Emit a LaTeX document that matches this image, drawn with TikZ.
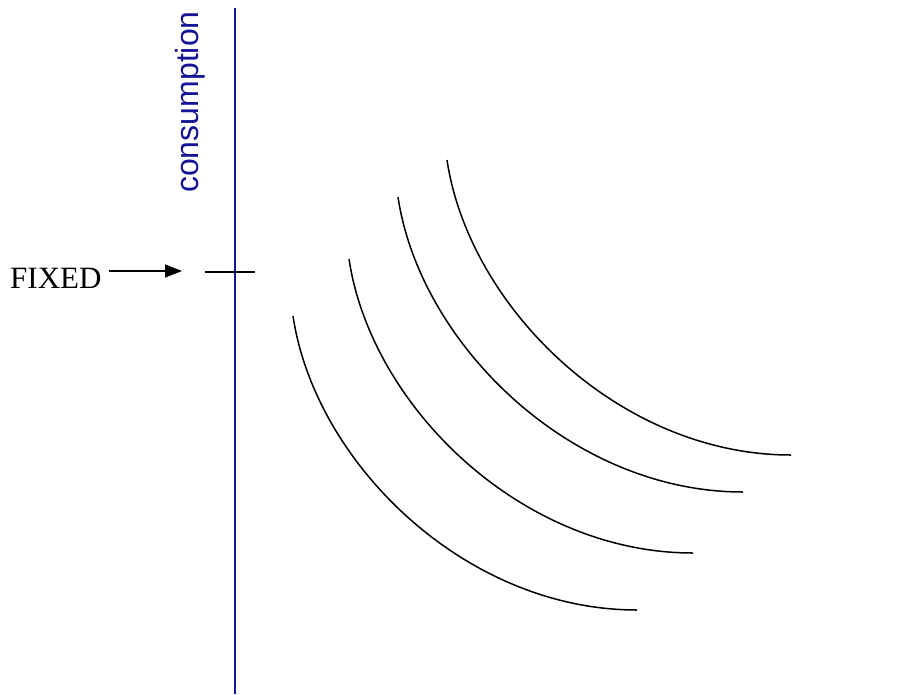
\documentclass[tikz,border=0pt]{standalone}
\usepackage{fontspec}
\setmainfont{Liberation Serif}
\setsansfont{Liberation Sans}
\usetikzlibrary{arrows.meta}
\definecolor{axisblue}{RGB}{20,20,150}
\tikzset{
  curve/.style={line width=1.5pt, black},
  axisline/.style={line width=1.5pt, axisblue},
  tickline/.style={line width=1.5pt, black},
  fixedarrow/.style={line width=1.5pt, -{Triangle[length=17pt,width=13pt]}, shorten <=7pt},
}
\begin{document}
\begin{tikzpicture}[x=1pt,y=-1pt]
\useasboundingbox (0,0) rectangle (913,694);
% axis
\coordinate (axT) at (235,8);
\coordinate (axB) at (235,694);
\draw[axisline] (axT) -- (axB);
\node[rotate=90, anchor=base west, inner sep=0pt, font=\sffamily\fontsize{32}{32}\selectfont, text=axisblue] (cons) at (198.5,193) {consumption};
% tick
\coordinate (tickL) at (205,272);
\coordinate (tickR) at (255,272);
\draw[tickline] (tickL) -- (tickR);
% FIXED label with arrow
\node[anchor=base west, inner sep=0pt, font=\fontsize{31}{31}\selectfont] (fixed) at (10,288) {FIXED};
\coordinate (tip) at (182,271);
\draw[fixedarrow] (fixed.east |- tip) -- (tip);
% curves
\coordinate (c1s) at (293,316); \coordinate (c1e) at (637,610);
\coordinate (c2s) at (349,259); \coordinate (c2e) at (693,553);
\coordinate (c3s) at (398,197); \coordinate (c3e) at (743,492);
\coordinate (c4s) at (447,160); \coordinate (c4e) at (791,455);
\draw[curve] (c1s) .. controls +(22,147) and +(-172,0) .. (c1e);
\draw[curve] (c2s) .. controls +(22,147) and +(-172,0) .. (c2e);
\draw[curve] (c3s) .. controls +(22,147) and +(-172,0) .. (c3e);
\draw[curve] (c4s) .. controls +(22,147) and +(-172,0) .. (c4e);
\end{tikzpicture}
\end{document}
